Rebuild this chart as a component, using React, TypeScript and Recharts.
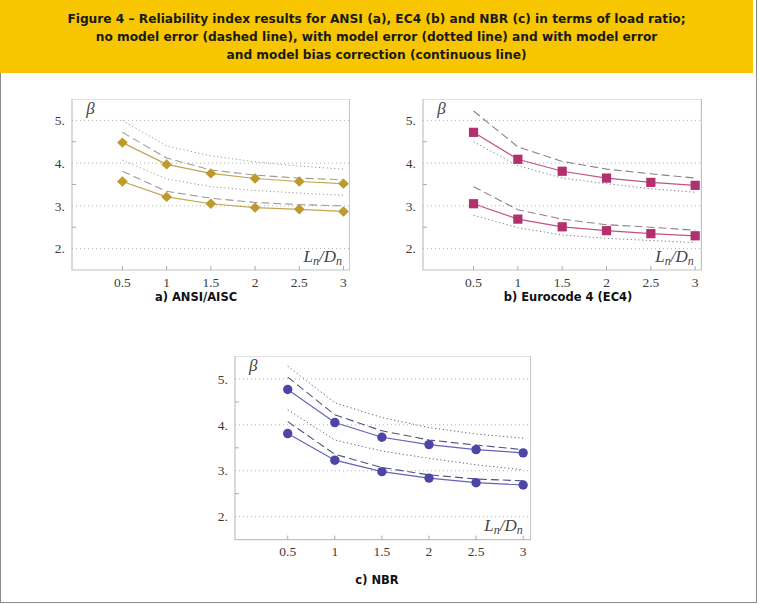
import React from 'react';
import { LineChart, Line, XAxis, YAxis, ReferenceArea, ReferenceLine } from 'recharts';

// Load ratio Ln/Dn on the horizontal axis
const loadRatio = [0.5, 1, 1.5, 2, 2.5, 3];
const betaTicks = [2, 2.5, 3, 3.5, 4, 4.5, 5];
const gridLevels = [2, 3, 4, 5];

// a) ANSI/AISC
const ansiBiasUpper = [4.48, 3.97, 3.76, 3.64, 3.57, 3.52];
const ansiBiasLower = [3.57, 3.21, 3.05, 2.96, 2.92, 2.87];
const ansiNoErrUpper = [4.72, 4.12, 3.84, 3.72, 3.65, 3.61];
const ansiNoErrLower = [3.81, 3.34, 3.18, 3.08, 3.03, 3.0];
const ansiErrUpper = [5.0, 4.4, 4.17, 4.03, 3.93, 3.86];
const ansiErrLower = [4.07, 3.63, 3.45, 3.36, 3.3, 3.25];

// b) Eurocode 4 (EC4)
const ec4BiasUpper = [4.72, 4.09, 3.81, 3.65, 3.55, 3.48];
const ec4BiasLower = [3.05, 2.69, 2.51, 2.42, 2.35, 2.3];
const ec4NoErrUpper = [5.22, 4.38, 4.04, 3.86, 3.75, 3.65];
const ec4NoErrLower = [3.45, 2.91, 2.69, 2.56, 2.5, 2.43];
const ec4ErrUpper = [4.5, 3.94, 3.65, 3.52, 3.4, 3.32];
const ec4ErrLower = [2.78, 2.49, 2.32, 2.24, 2.19, 2.14];

// c) NBR
const nbrBiasUpper = [4.77, 4.05, 3.73, 3.57, 3.46, 3.39];
const nbrBiasLower = [3.81, 3.23, 2.98, 2.84, 2.74, 2.69];
const nbrNoErrUpper = [5.04, 4.22, 3.87, 3.67, 3.56, 3.46];
const nbrNoErrLower = [4.07, 3.36, 3.07, 2.91, 2.82, 2.78];
const nbrErrUpper = [5.28, 4.48, 4.16, 3.94, 3.8, 3.71];
const nbrErrLower = [4.33, 3.67, 3.43, 3.27, 3.13, 3.02];

const titleLines = [
  'Figure 4 – Reliability index results for ANSI (a), EC4 (b) and NBR (c) in terms of load ratio;',
  'no model error (dashed line), with model error (dotted line) and with model error',
  'and model bias correction (continuous line)',
];

type Shape = 'diamond' | 'square' | 'circle';

interface PanelProps {
  left: number;
  top: number;
  width: number;
  height: number;
  xDomain: [number, number];
  biasUpper: number[];
  biasLower: number[];
  noErrUpper: number[];
  noErrLower: number[];
  errUpper: number[];
  errLower: number[];
  marker: string;
  solid: string;
  dashed: string;
  dotted: string;
  shape: Shape;
}

const Y_AXIS_W = 30;
const X_AXIS_H = 26;
const serif = '"Liberation Serif", "DejaVu Serif", serif';
const sans = '"DejaVu Sans", "Liberation Sans", sans-serif';

function makeMarker(shape: Shape, color: string) {
  return (p: any) => {
    const { cx, cy, index } = p;
    if (cx == null || cy == null) return <g key={`m-${index}`} />;
    if (shape === 'diamond') {
      return (
        <polygon
          key={`m-${index}`}
          points={`${cx},${cy - 5.2} ${cx + 5.4},${cy} ${cx},${cy + 5.2} ${cx - 5.4},${cy}`}
          fill={color}
        />
      );
    }
    if (shape === 'square') {
      return <rect key={`m-${index}`} x={cx - 4.6} y={cy - 4.6} width={9.2} height={9.2} fill={color} />;
    }
    return <circle key={`m-${index}`} cx={cx} cy={cy} r={4.7} fill={color} />;
  };
}

const YTick = (props: any) => {
  const { x, y, payload } = props;
  const v = payload.value as number;
  const axisX = x + 7;
  const major = Number.isInteger(v);
  return (
    <g>
      {!major && <line x1={axisX} x2={axisX + 4} y1={y} y2={y} stroke="#aaa" strokeWidth={1} />}
      {major && (
        <text x={x} y={y} dy="0.35em" textAnchor="end" fontFamily={serif} fontSize={13.5} fill="#3a3a3a">
          {`${v}.`}
        </text>
      )}
    </g>
  );
};

const XTick = (props: any) => {
  const { x, y, payload } = props;
  const axisY = y - 6;
  return (
    <g>
      <line x1={x} x2={x} y1={axisY} y2={axisY - 4} stroke="#aaa" strokeWidth={1} />
      <text x={x} y={y} dy="0.8em" textAnchor="middle" fontFamily={serif} fontSize={13.5} fill="#3a3a3a">
        {payload.value}
      </text>
    </g>
  );
};

function Panel(props: PanelProps) {
  const rows = loadRatio.map((x, i) => ({
    x,
    biasUpper: props.biasUpper[i],
    biasLower: props.biasLower[i],
    noErrUpper: props.noErrUpper[i],
    noErrLower: props.noErrLower[i],
    errUpper: props.errUpper[i],
    errLower: props.errLower[i],
  }));
  const plotLeft = props.left + Y_AXIS_W;
  const plotRight = props.left + props.width;
  const plotBottom = props.top + props.height - X_AXIS_H;
  const dotMarker = makeMarker(props.shape, props.marker);
  return (
    <>
      <div style={{ position: 'absolute', left: props.left, top: props.top }}>
        <LineChart
          width={props.width}
          height={props.height}
          data={rows}
          margin={{ top: 0, right: 0, bottom: 0, left: 0 }}
        >
          <XAxis
            dataKey="x"
            type="number"
            domain={props.xDomain}
            ticks={loadRatio}
            allowDataOverflow
            height={X_AXIS_H}
            tickSize={0}
            tickMargin={6}
            axisLine={false}
            tickLine={false}
            tick={<XTick />}
            interval={0}
          />
          <YAxis
            type="number"
            domain={[1.5, 5.5]}
            ticks={betaTicks}
            allowDataOverflow
            width={Y_AXIS_W}
            tickSize={0}
            tickMargin={7}
            axisLine={false}
            tickLine={false}
            tick={<YTick />}
            interval={0}
          />
          {gridLevels.map((g) => (
            <ReferenceLine key={g} y={g} stroke="#b0b0b0" strokeDasharray="1 3" strokeWidth={1} />
          ))}
          <ReferenceArea
            x1={props.xDomain[0]}
            x2={props.xDomain[1]}
            y1={1.5}
            y2={5.5}
            fill="none"
            stroke="#c2c2c2"
            strokeWidth={1.2}
          />
          <Line dataKey="errUpper" stroke={props.dotted} strokeWidth={1} strokeDasharray="1.2 2.6" dot={false} isAnimationActive={false} />
          <Line dataKey="errLower" stroke={props.dotted} strokeWidth={1} strokeDasharray="1.2 2.6" dot={false} isAnimationActive={false} />
          <Line dataKey="noErrUpper" stroke={props.dashed} strokeWidth={1.1} strokeDasharray="8 4" dot={false} isAnimationActive={false} />
          <Line dataKey="noErrLower" stroke={props.dashed} strokeWidth={1.1} strokeDasharray="8 4" dot={false} isAnimationActive={false} />
          <Line dataKey="biasUpper" stroke={props.solid} strokeWidth={1.2} dot={dotMarker} isAnimationActive={false} />
          <Line dataKey="biasLower" stroke={props.solid} strokeWidth={1.2} dot={dotMarker} isAnimationActive={false} />
        </LineChart>
      </div>
      <div
        style={{
          position: 'absolute',
          left: plotLeft + 14,
          top: props.top + 1,
          fontFamily: serif,
          fontStyle: 'italic',
          fontSize: 17,
          color: '#444',
          lineHeight: 1,
        }}
      >
        β
      </div>
      <div
        style={{
          position: 'absolute',
          left: plotRight - 58,
          top: plotBottom - 22,
          width: 50,
          textAlign: 'right',
          fontFamily: serif,
          fontStyle: 'italic',
          fontSize: 17,
          color: '#444',
          lineHeight: 1,
          whiteSpace: 'nowrap',
        }}
      >
        L<span style={{ fontSize: 12, position: 'relative', top: 3 }}>n</span>/D
        <span style={{ fontSize: 12, position: 'relative', top: 3 }}>n</span>
      </div>
    </>
  );
}

const Caption = ({ text, cx, cy }: { text: string; cx: number; cy: number }) => (
  <div
    style={{
      position: 'absolute',
      left: cx - 120,
      top: cy - 7,
      width: 240,
      textAlign: 'center',
      fontFamily: sans,
      fontWeight: 'bold',
      fontSize: 11.5,
      color: '#111',
      lineHeight: '14px',
    }}
  >
    {text}
  </div>
);

export default function App() {
  return (
    <div
      style={{
        position: 'absolute',
        left: 0,
        top: 0,
        width: 759,
        height: 605,
        background: '#fff',
        overflow: 'hidden',
      }}
    >
      <div
        style={{
          position: 'absolute',
          left: 0,
          top: 0,
          width: 755,
          height: 602,
          border: '1.5px solid #8a8a8a',
          borderTop: 'none',
        }}
      />
      <div
        style={{
          position: 'absolute',
          left: 0,
          top: 0,
          width: 753,
          height: 73,
          background: '#F7C600',
          display: 'flex',
          flexDirection: 'column',
          justifyContent: 'center',
          alignItems: 'center',
        }}
      >
        {titleLines.map((t) => (
          <div
            key={t}
            style={{ fontFamily: sans, fontWeight: 'bold', fontSize: 12.2, lineHeight: '18px', color: '#1a1a1a' }}
          >
            {t}
          </div>
        ))}
      </div>

      <Panel
        left={42.3}
        top={99}
        width={307.7}
        height={171 + X_AXIS_H}
        xDomain={[-0.07, 3.07]}
        biasUpper={ansiBiasUpper}
        biasLower={ansiBiasLower}
        noErrUpper={ansiNoErrUpper}
        noErrLower={ansiNoErrLower}
        errUpper={ansiErrUpper}
        errLower={ansiErrLower}
        marker="#BC9A2C"
        solid="#C4A552"
        dashed="#A39A8C"
        dotted="#9a9a9a"
        shape="diamond"
      />
      <Panel
        left={393.3}
        top={99}
        width={308.4}
        height={171 + X_AXIS_H}
        xDomain={[-0.07, 3.07]}
        biasUpper={ec4BiasUpper}
        biasLower={ec4BiasLower}
        noErrUpper={ec4NoErrUpper}
        noErrLower={ec4NoErrLower}
        errUpper={ec4ErrUpper}
        errLower={ec4ErrLower}
        marker="#B3306E"
        solid="#C25383"
        dashed="#8E7F88"
        dotted="#7c7c7c"
        shape="square"
      />
      <Panel
        left={205}
        top={355.7}
        width={325.7}
        height={183.6 + X_AXIS_H}
        xDomain={[-0.06, 3.08]}
        biasUpper={nbrBiasUpper}
        biasLower={nbrBiasLower}
        noErrUpper={nbrNoErrUpper}
        noErrLower={nbrNoErrLower}
        errUpper={nbrErrUpper}
        errLower={nbrErrLower}
        marker="#4D46A6"
        solid="#6662B6"
        dashed="#4E5280"
        dotted="#5d5d6c"
        shape="circle"
      />

      <Caption text="a) ANSI/AISC" cx={196} cy={297} />
      <Caption text="b) Eurocode 4 (EC4)" cx={568} cy={297} />
      <Caption text="c) NBR" cx={377} cy={580} />
    </div>
  );
}
